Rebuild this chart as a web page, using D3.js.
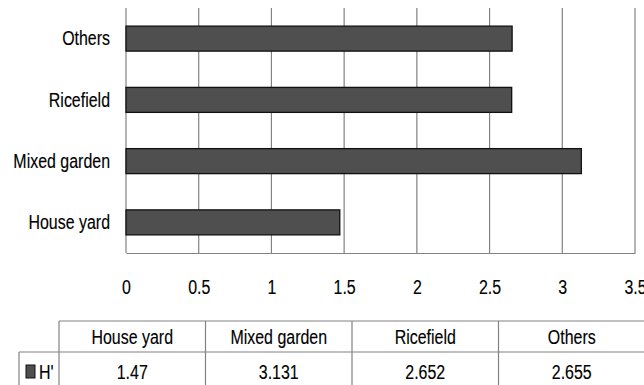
<!DOCTYPE html>
<html>
<head>
<meta charset="utf-8">
<script src="https://cdn.jsdelivr.net/npm/d3@7"></script>
<style>
  html, body { margin: 0; padding: 0; background: #fff; }
  svg text { font-family: "Liberation Sans", Arial, sans-serif; font-size: 21px; fill: #000; stroke: #000; stroke-width: 0.15px; }
</style>
</head>
<body>
<svg id="chart" width="644" height="385"></svg>
<script>
// Shannon diversity index (H') by land-use type
const categories = ["House yard", "Mixed garden", "Ricefield", "Others"];
const hValues = [1.47, 3.131, 2.652, 2.655];
const xTicks = [0, 0.5, 1, 1.5, 2, 2.5, 3, 3.5];
const seriesName = "H'";

const svg = d3.select("#chart");

// narrow, tall lettering
const SX = 0.76;

const plot = { left: 126, right: 635, top: 8, bottom: 253 };

const x = d3.scaleLinear().domain([0, 3.5]).range([plot.left, plot.right]);
const y = d3.scaleBand()
  .domain(categories.slice().reverse())
  .range([plot.top, plot.bottom])
  .paddingInner(0.592)
  .paddingOuter(0.296);

const gridColor = "#828282";

// vertical gridlines
svg.append("g")
  .selectAll("line")
  .data(xTicks)
  .join("line")
  .attr("x1", d => x(d)).attr("x2", d => x(d))
  .attr("y1", plot.top).attr("y2", plot.bottom)
  .attr("stroke", gridColor).attr("stroke-width", 1.2);

// bottom axis with tick labels
const xAxis = svg.append("g")
  .attr("transform", `translate(0,${plot.bottom})`)
  .call(d3.axisBottom(x).tickValues(xTicks).tickSize(0).tickPadding(26).tickFormat(d3.format("")));
xAxis.select(".domain").attr("stroke", gridColor).attr("stroke-width", 1.2);
xAxis.selectAll("text")
  .attr("font-size", null).attr("font-family", null)
  .attr("transform", `scale(${SX},1)`);

// category labels
const yPad = 16;
const yAxis = svg.append("g")
  .attr("transform", `translate(${plot.left},0)`)
  .call(d3.axisLeft(y).tickSize(0).tickPadding(yPad));
yAxis.select(".domain").remove();
yAxis.selectAll("text")
  .attr("font-size", null).attr("font-family", null)
  .attr("x", -yPad / SX)
  .attr("transform", `scale(${SX},1)`);

// bars
svg.append("g")
  .selectAll("rect")
  .data(categories.map((c, i) => ({ c, v: hValues[i] })))
  .join("rect")
  .attr("x", x(0))
  .attr("y", d => y(d.c))
  .attr("width", d => x(d.v) - x(0))
  .attr("height", y.bandwidth())
  .attr("fill", "#4f4f4f")
  .attr("stroke", "#111")
  .attr("stroke-width", 1.3);

// data table
const tbl = { left: 59, right: 645, top: 321, mid: 352, bottom: 390, keyLeft: 19 };
const headY = 336.5, rowY = 372;
const col = d3.scaleBand().domain(categories).range([tbl.left, tbl.right]);
const lineColor = "#828282";
const tg = svg.append("g").attr("stroke", lineColor).attr("stroke-width", 1.2);

tg.append("line").attr("x1", tbl.left).attr("x2", tbl.right).attr("y1", tbl.top).attr("y2", tbl.top);
tg.append("line").attr("x1", tbl.keyLeft).attr("x2", tbl.right).attr("y1", tbl.mid).attr("y2", tbl.mid);
tg.append("line").attr("x1", tbl.keyLeft).attr("x2", tbl.keyLeft).attr("y1", tbl.mid).attr("y2", tbl.bottom);
tg.selectAll(".vcol")
  .data(categories)
  .join("line")
  .attr("x1", d => col(d)).attr("x2", d => col(d))
  .attr("y1", tbl.top).attr("y2", tbl.bottom);
tg.append("line").attr("x1", tbl.right).attr("x2", tbl.right).attr("y1", tbl.top).attr("y2", tbl.bottom);

function label(parent, data, fx, fy, fText, anchor) {
  return parent.selectAll(null)
    .data(data)
    .join("text")
    .attr("transform", d => `translate(${fx(d)},${fy(d)}) scale(${SX},1)`)
    .attr("dy", "0.35em")
    .attr("text-anchor", anchor)
    .text(fText);
}

// header row
label(svg.append("g"), categories,
  d => col(d) + col.bandwidth() / 2, () => headY, d => d, "middle");

// value row
label(svg.append("g"), categories.map((c, i) => ({ c, v: hValues[i] })),
  d => col(d.c) + col.bandwidth() / 2, () => rowY, d => d.v, "middle");

// legend key
svg.append("rect")
  .attr("x", 26).attr("y", 365).attr("width", 9).attr("height", 13)
  .attr("fill", "#4f4f4f").attr("stroke", "#111").attr("stroke-width", 1);
label(svg.append("g"), [seriesName], () => 39, () => rowY, d => d, "start");
</script>
</body>
</html>
